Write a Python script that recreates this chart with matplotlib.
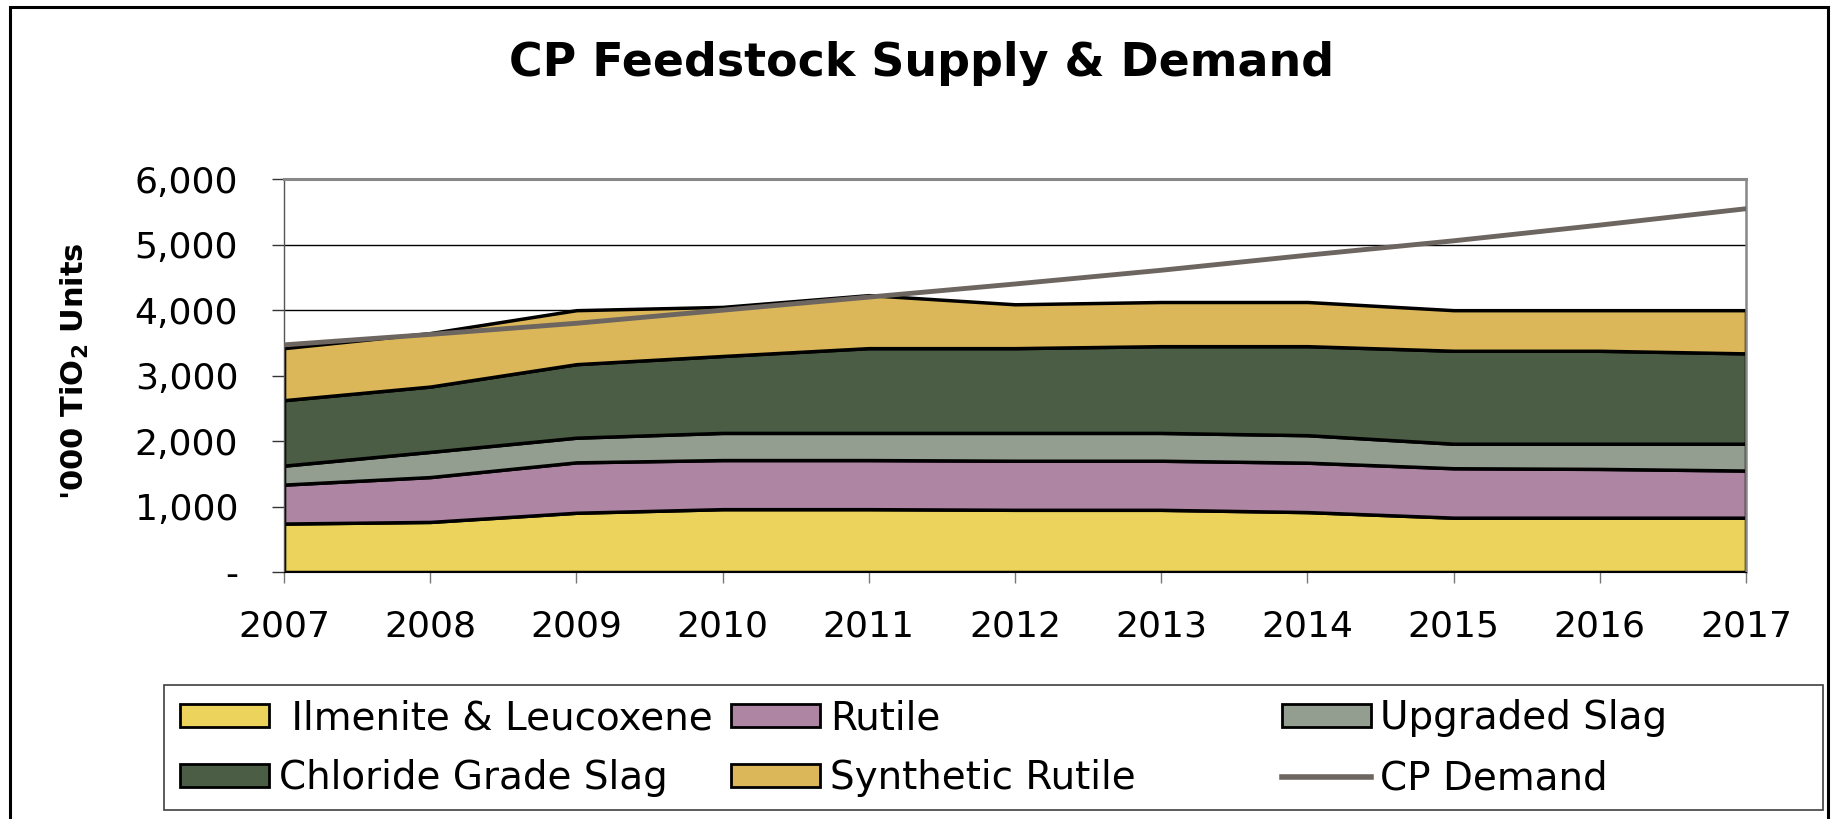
import matplotlib
matplotlib.use('Agg')
import matplotlib.pyplot as plt
from matplotlib.patches import Rectangle, Patch
from matplotlib.lines import Line2D
import numpy as np

# Dados (milhares de unidades de TiO2)
anos = [2007, 2008, 2009, 2010, 2011, 2012, 2013, 2014, 2015, 2016, 2017]
ilmenita = [740, 765, 905, 960, 960, 950, 950, 915, 830, 830, 830]
rutilo = [595, 685, 770, 750, 750, 750, 750, 755, 755, 745, 720]
escoria_melhorada = [290, 385, 377, 415, 415, 425, 425, 420, 375, 385, 410]
escoria_cloreto = [1000, 998, 1123, 1175, 1295, 1295, 1325, 1360, 1420, 1420, 1380]
rutilo_sintetico = [795, 817, 825, 750, 810, 670, 675, 675, 620, 620, 660]
demanda = [3470, 3630, 3800, 4000, 4200, 4400, 4610, 4840, 5060, 5300, 5550]

series = ['Ilmenite & Leucoxene', 'Rutile', 'Upgraded Slag',
          'Chloride Grade Slag', 'Synthetic Rutile']
cores = ['#EBD35C', '#AE86A4', '#949E90', '#4B5E45', '#DBB75A']
cor_demanda = '#6D6560'

yticks = [0, 1000, 2000, 3000, 4000, 5000, 6000]
ytick_labels = ['-', '1,000', '2,000', '3,000', '4,000', '5,000', '6,000']

fig = plt.figure(figsize=(18.35, 8.19), dpi=100)
ax = fig.add_axes([0.1548, 0.3016, 0.7967, 0.4795])

# Áreas empilhadas
ax.stackplot(anos, ilmenita, rutilo, escoria_melhorada, escoria_cloreto,
             rutilo_sintetico, colors=cores, edgecolor='black',
             linewidth=2.5, zorder=2)
# Demanda
ax.plot(anos, demanda, color=cor_demanda, linewidth=3.5, zorder=3)

ax.set_xlim(2007, 2017)
ax.set_ylim(0, 6000)
ax.set_xticks(anos)
ax.set_xticklabels([str(a) for a in anos])
ax.set_yticks(yticks)
ax.set_yticklabels(ytick_labels)
ax.tick_params(axis='x', labelsize=26, length=8, width=1, color='#777777', pad=19)
ax.tick_params(axis='y', labelsize=26, length=9, width=1, color='#333333', pad=24)

for y in yticks[1:-1]:
    ax.axhline(y, color='black', linewidth=1, zorder=1)

ax.spines['top'].set_color('#888888')
ax.spines['top'].set_linewidth(2.2)
ax.spines['right'].set_color('#888888')
ax.spines['right'].set_linewidth(1.8)
ax.spines['left'].set_color('#555555')
ax.spines['left'].set_linewidth(1)
ax.spines['bottom'].set_color('black')

# Título e rótulo do eixo
fig.text(0.502, 0.922, 'CP Feedstock Supply & Demand', ha='center', va='center',
         fontsize=33, fontweight='bold')
fig.text(0.041, 0.547, r"'000 TiO$_\mathbf{2}$ Units", rotation=90, ha='center',
         va='center', fontsize=22, fontweight='bold')

# Legenda em três colunas de largura igual
handles = [Patch(facecolor=c, edgecolor='black', linewidth=2) for c in cores]
handles.append(Line2D([0], [0], color=cor_demanda, linewidth=4))
rotulos = [' ' + series[0]] + series[1:] + ['CP Demand']
colunas = [(0, 3), (1, 4), (2, 5)]
x_colunas = [0.0981, 0.3985, 0.6984]
for (i, j), x in zip(colunas, x_colunas):
    fig.legend([handles[i], handles[j]], [rotulos[i], rotulos[j]],
               loc='upper left', bbox_to_anchor=(x, 0.146), frameon=False,
               fontsize=28, handlelength=2.29, handleheight=0.51,
               handletextpad=0.25, labelspacing=0.56, borderaxespad=0,
               borderpad=0)

fig.patches.append(Rectangle((0.0894, 0.011), 0.9041, 0.1525,
                             transform=fig.transFigure, fill=False,
                             edgecolor='#404040', linewidth=1.2))
# Moldura externa
fig.patches.append(Rectangle((0.0055, -0.02), 0.9907, 1.0115,
                             transform=fig.transFigure, fill=False,
                             edgecolor='black', linewidth=2.2))

fig.savefig('out.png', dpi=100)
